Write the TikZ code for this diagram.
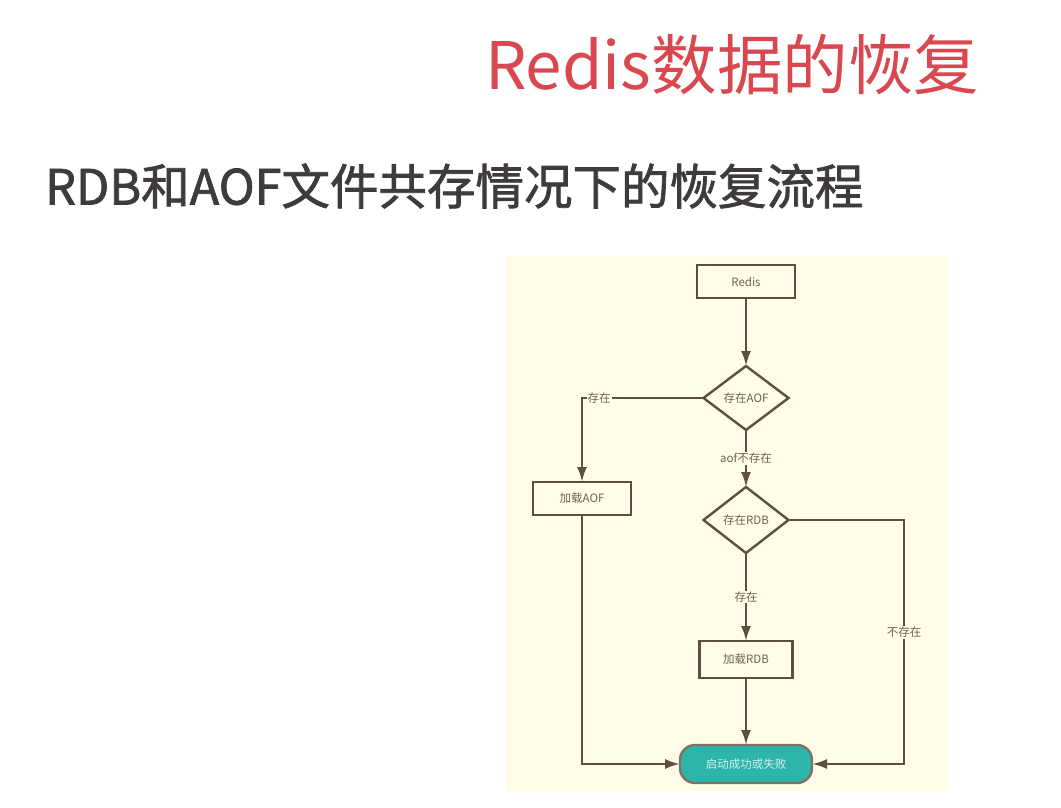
\documentclass[tikz,border=0pt]{standalone}
\usepackage{fontspec}
\setmainfont{Noto Sans CJK SC}
\newfontfamily\headfont[FakeBold=1.5]{Noto Sans CJK SC}
\usepackage{tikz}
\usetikzlibrary{arrows.meta}
\usetikzlibrary{positioning}
\usetikzlibrary{shapes}
\definecolor{flowline}{HTML}{5E4E42}
\definecolor{flowtext}{HTML}{6E6055}
\definecolor{panel}{HTML}{FFFDE8}
\definecolor{teal}{HTML}{2DB5AB}
\definecolor{titlered}{HTML}{D9474F}
\definecolor{subgray}{HTML}{3F3B3B}
\tikzset{
  >={Latex[length=15pt, width=10pt]},
  flow/.style = {->, draw = flowline, line width = 2.4pt},
  block/.style = {rectangle, draw = flowline, line width = 2.4pt, fill = panel,
    text = flowtext, font = \fontsize{11.5}{13}\selectfont, inner sep = 0pt, outer sep = 0pt},
  decision/.style = {diamond, draw = flowline, line width = 2.4pt, fill = panel,
    text = flowtext, font = \fontsize{11.5}{13}\selectfont, inner sep = 0pt, outer sep = 0pt},
  terminal/.style = {rectangle, rounded corners = 15pt, draw = flowline!80,
    line width = 2.4pt, fill = teal, text = teal!20, outer sep = 0pt,
    font = \fontsize{11.5}{13}\selectfont},
  branch/.style = {fill = panel, text = flowtext, inner sep = 1pt,
    font = \fontsize{11.5}{13}\selectfont},
}

\begin{document}
\begin{tikzpicture}[x = 1pt, y = -1pt]
  \useasboundingbox (0,0) rectangle (1061,808);
  % headings
  \node [text = titlered, font = \fontsize{65.5}{72}\selectfont] (title) at (732,65) {Redis数据的恢复};
  \node [text = subgray, anchor = west, inner sep = 0pt, font = \headfont\fontsize{48.5}{54}\selectfont] (subtitle) at (45,186) {RDB和AOF文件共存情况下的恢复流程};
  \fill [panel] (506,256) rectangle (948,791);
  % nodes
  \node [block, minimum width = 98pt, minimum height = 33pt] (redis) at (746,281.5) {Redis};
  \node [decision, minimum width = 85pt, minimum height = 64pt, below = 68pt of redis] (hasaof) {存在AOF};
  \node [decision, minimum width = 85pt, minimum height = 66pt, below = 57pt of hasaof] (hasrdb) {存在RDB};
  \node [block, minimum width = 93pt, minimum height = 37pt, below = 88pt of hasrdb] (loadrdb) {加载RDB};
  \node [terminal, minimum width = 132pt, minimum height = 38pt, below = 67pt of loadrdb] (done) {启动成功或失败};
  \node [block, minimum width = 98pt, minimum height = 33pt] (loadaof) at (582,498.5) {加载AOF};
  \path (done.east) ++(92,0) coordinate (corner);
  % edges
  \draw [flow] (redis) -- (hasaof);
  \draw [flow] (hasaof) -| node [branch, pos = 0.43] {存在} (loadaof);
  \draw [flow] (hasaof) -- node [branch] {aof不存在} (hasrdb);
  \draw [flow] (hasrdb) -- node [branch] {存在} (loadrdb);
  \draw [flow] (hasrdb) -| node [branch, pos = 0.73] {不存在} (corner) -- (done);
  \draw [flow] (loadrdb) -- (done);
  \draw [flow] (loadaof) |- (done);
\end{tikzpicture}
\end{document}
